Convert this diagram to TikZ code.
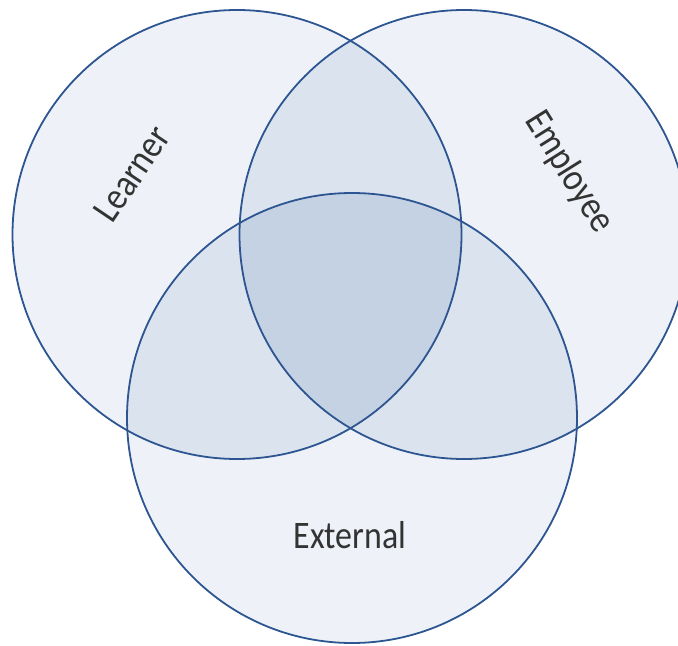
\documentclass[tikz,border=0pt]{standalone}
\usepackage{fontspec}
\setmainfont{Carlito}

\definecolor{oneset}{HTML}{EEF2F8}
\definecolor{twoset}{HTML}{DBE3EE}
\definecolor{threeset}{HTML}{C5D2E3}
\definecolor{rim}{HTML}{2C5591}
\definecolor{labeltext}{HTML}{333333}

\begin{document}
\begin{tikzpicture}[x=1bp, y=-1bp,
    rimline/.style={draw=rim, line width=1.8bp},
    setlabel/.style={text=labeltext, inner sep=0pt,
      font=\fontsize{34}{34}\selectfont}]
  \useasboundingbox (0,0) rectangle (678,646);
  \clip (0,0) rectangle (678,646);

  % circle centres
  \coordinate (cL) at (237,234.5);
  \coordinate (cR) at (464,234.5);
  \coordinate (cB) at (352,418);
  \def\rL{224.5}
  \def\rR{224.5}
  \def\rB{225}

  % single-set fill
  \fill[oneset] (cL) circle[radius=\rL];
  \fill[oneset] (cR) circle[radius=\rR];
  \fill[oneset] (cB) circle[radius=\rB];

  % pairwise overlaps
  \begin{scope}
    \clip (cL) circle[radius=\rL];
    \fill[twoset] (cR) circle[radius=\rR];
    \fill[twoset] (cB) circle[radius=\rB];
  \end{scope}
  \begin{scope}
    \clip (cR) circle[radius=\rR];
    \fill[twoset] (cB) circle[radius=\rB];
  \end{scope}

  % triple overlap
  \begin{scope}
    \clip (cL) circle[radius=\rL];
    \clip (cR) circle[radius=\rR];
    \fill[threeset] (cB) circle[radius=\rB];
  \end{scope}

  % outlines
  \path[rimline] (cL) circle[radius=\rL];
  \path[rimline] (cR) circle[radius=\rR];
  \path[rimline] (cB) circle[radius=\rB];

  % labels
  \node[setlabel, rotate=56] (learner) at (132,174) {\scalebox{1}[1.15]{Learner}};
  \node[setlabel, rotate=-58] (employee) at (569,172) {\scalebox{1}[1.15]{Employee}};
  \node[setlabel] (external) at (350,535) {\scalebox{1}[1.15]{External}};
\end{tikzpicture}
\end{document}
